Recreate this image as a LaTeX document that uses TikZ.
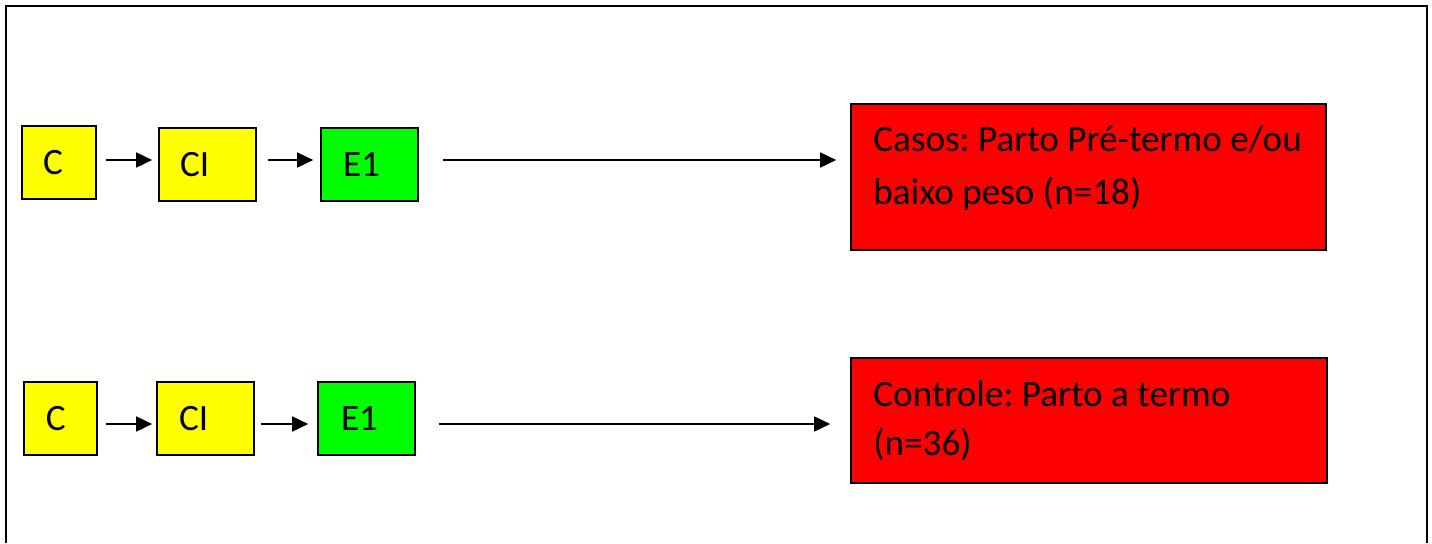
\documentclass[tikz,border=0pt]{standalone}
\usepackage{fontspec}
\setmainfont{Carlito}
\usetikzlibrary{arrows.meta}
\definecolor{boxyellow}{RGB}{255,255,0}
\definecolor{boxgreen}{RGB}{0,255,0}
\definecolor{boxred}{RGB}{255,0,0}
\def\pxu{0.5pt}
\frenchspacing
\begin{document}
\begin{tikzpicture}[x=0.5pt,y=-0.5pt,
  font=\fontsize{18.6pt}{25pt}\selectfont,
  box/.style={draw=black, line width=0.8pt, inner ysep=0pt, align=left},
  ybox/.style={box, fill=boxyellow},
  gbox/.style={box, fill=boxgreen},
  rbox/.style={draw=black, line width=0.8pt, fill=boxred, inner sep=0pt},
  txt/.style={anchor=base west, inner sep=0pt},
  arr/.style={line width=0.75pt, -{Triangle[length=8pt,width=7.5pt]}},
  frame/.style={line width=1pt}]
\useasboundingbox (0,0) rectangle (1432,543);
\draw[frame] (6,543) -- (6,6) -- (1427,6) -- (1427,543);

% top row
\node[ybox, minimum width=74*\pxu, minimum height=73*\pxu, text width=32*\pxu, inner xsep=21*\pxu] (c1) at (59,162.5) {C};
\node[ybox, minimum width=97*\pxu, minimum height=73*\pxu, text width=55*\pxu, inner xsep=21*\pxu] (ci1) at (207.5,164.5) {CI};
\node[gbox, minimum width=97*\pxu, minimum height=73*\pxu, text width=53*\pxu, inner xsep=22*\pxu] (e11) at (369.5,164.5) {E1};
\node[rbox, minimum width=475*\pxu, minimum height=146*\pxu] (casos) at (1088.5,177) {};
\node[txt] (casostxt) at (873,151) {\parbox[t]{230pt}{\baselineskip=26.5pt Casos: Parto Pré-termo e/ou\\baixo peso (n=18)}};

\draw[arr, shorten <=9*\pxu, shorten >=6*\pxu] ([yshift=2.5*\pxu]c1.east) -- ([yshift=4.5*\pxu]ci1.west);
\draw[arr, shorten <=11*\pxu, shorten >=7*\pxu] ([yshift=4.5*\pxu]ci1.east) -- ([yshift=4.5*\pxu]e11.west);
\draw[arr, shorten <=24*\pxu, shorten >=14*\pxu] ([yshift=4.5*\pxu]e11.east) -- ([yshift=17*\pxu]casos.west);

% bottom row
\node[ybox, minimum width=73*\pxu, minimum height=73*\pxu, text width=29*\pxu, inner xsep=22*\pxu] (c2) at (60.5,418.5) {C};
\node[ybox, minimum width=97*\pxu, minimum height=73*\pxu, text width=53*\pxu, inner xsep=22*\pxu] (ci2) at (205.5,418.5) {CI};
\node[gbox, minimum width=97*\pxu, minimum height=73*\pxu, text width=51*\pxu, inner xsep=23*\pxu] (e12) at (366.5,418.5) {E1};
\node[rbox, minimum width=476*\pxu, minimum height=125*\pxu] (controle) at (1089,420.5) {};
\node[txt] (controletxt) at (873,406) {\parbox[t]{230pt}{\baselineskip=24.5pt Controle: Parto a termo\\(n=36)}};

\draw[arr, shorten <=8*\pxu, shorten >=4*\pxu] ([yshift=-5.5*\pxu]c2.east) -- ([yshift=-5.5*\pxu]ci2.west);
\draw[arr, shorten <=6*\pxu, shorten >=9*\pxu] ([yshift=-5.5*\pxu]ci2.east) -- ([yshift=-5.5*\pxu]e12.west);
\draw[arr, shorten <=23*\pxu, shorten >=20*\pxu] ([yshift=-5.5*\pxu]e12.east) -- ([yshift=-3.5*\pxu]controle.west);
\end{tikzpicture}
\end{document}
